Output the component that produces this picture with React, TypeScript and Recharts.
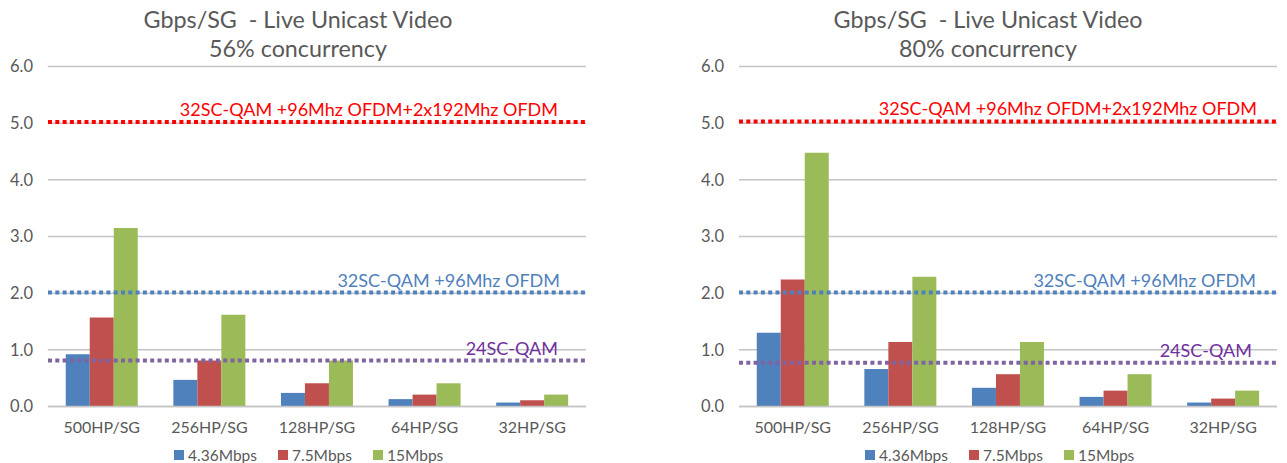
import React from "react";
import {
  Bar,
  BarChart,
  CartesianGrid,
  Legend,
  ReferenceLine,
  XAxis,
  YAxis,
} from "recharts";

const categories = ["500HP/SG", "256HP/SG", "128HP/SG", "64HP/SG", "32HP/SG"];
const seriesNames = ["4.36Mbps", "7.5Mbps", "15Mbps"];
const seriesColors = ["#4f81bd", "#c0504d", "#9bbb59"];
const yTicks = [0, 1, 2, 3, 4, 5, 6];

// 56% concurrency
const c56_436 = [0.92, 0.47, 0.24, 0.13, 0.07];
const c56_75 = [1.57, 0.81, 0.41, 0.21, 0.11];
const c56_15 = [3.15, 1.62, 0.81, 0.41, 0.21];

// 80% concurrency
const c80_436 = [1.3, 0.66, 0.33, 0.17, 0.07];
const c80_75 = [2.24, 1.14, 0.57, 0.28, 0.14];
const c80_15 = [4.48, 2.29, 1.14, 0.57, 0.28];

// capacity reference lines
const refLabels = ["32SC-QAM +96Mhz OFDM+2x192Mhz OFDM", "32SC-QAM +96Mhz OFDM", "24SC-QAM"];
const refLineColors = ["#ff0000", "#4f81bd", "#8064a2"];
const refTextColors = ["#ff0000", "#4f81bd", "#7030a0"];
const ref56 = [5.02, 2.01, 0.81];
const ref80 = [5.03, 2.01, 0.77];

const FONT = "Lato, 'Open Sans', sans-serif";
const GRAY = "#595959";

function buildRows(a: number[], b: number[], c: number[]) {
  return categories.map((name, i) => ({
    name,
    [seriesNames[0]]: a[i],
    [seriesNames[1]]: b[i],
    [seriesNames[2]]: c[i],
  }));
}

function dottedShape(color: string, id: string) {
  return (props: any) => {
    const { x1, y1, x2, y2 } = props;
    return (
      <g>
        <defs>
          <filter id={id} x="-5%" y="-200%" width="110%" height="500%">
            <feGaussianBlur stdDeviation="1.6" />
          </filter>
        </defs>
        <line x1={x1} y1={y1 + 3} x2={x2} y2={y2 + 3} stroke="#8a8a8a" strokeOpacity={0.45} strokeWidth={4} filter={`url(#${id})`} />
        <line x1={x1} y1={y1} x2={x2} y2={y2} stroke={color} strokeWidth={4} strokeDasharray="4 3.3" />
      </g>
    );
  };
}

function RefLabel(props: any) {
  const { viewBox, text, color, dx } = props;
  if (!viewBox) return null;
  return (
    <text
      x={viewBox.x + viewBox.width - dx}
      y={viewBox.y - 6}
      textAnchor="end"
      fill={color}
      fontSize={18}
      fontFamily={FONT}
    >
      {text}
    </text>
  );
}

function LegendRow({ padLeft }: { padLeft: number }) {
  return (
    <div
      style={{
        display: "flex",
        alignItems: "center",
        height: 16,
        paddingLeft: padLeft,
        fontFamily: FONT,
        fontSize: 15.5,
        color: GRAY,
        lineHeight: "16px",
      }}
    >
      {seriesNames.map((s, i) => (
        <span key={s} style={{ display: "flex", alignItems: "center", marginRight: 21 }}>
          <span style={{ width: 10, height: 10, background: seriesColors[i], marginRight: 4 }} />
          {s}
        </span>
      ))}
    </div>
  );
}

type PanelProps = {
  id: string;
  left: number;
  width: number;
  marginLeft: number;
  marginRight: number;
  subtitle: string;
  titleCenter: number;
  rows: any[];
  refs: number[];
  labelDx: number[];
  legendPad: number;
};

function Panel(p: PanelProps) {
  return (
    <div style={{ position: "absolute", left: p.left, top: 0, width: p.width, height: 463 }}>
      <div
        style={{
          position: "absolute",
          left: p.titleCenter - p.left - 250,
          top: 5,
          width: 500,
          textAlign: "center",
          fontFamily: FONT,
          fontSize: 23.3,
          lineHeight: "29px",
          color: GRAY,
          whiteSpace: "pre",
        }}
      >
        {"Gbps/SG  - Live Unicast Video"}
        <br />
        {p.subtitle}
      </div>
      <BarChart
        width={p.width}
        height={463}
        data={p.rows}
        margin={{ top: 66.5, right: p.marginRight, bottom: 0, left: p.marginLeft }}
        barCategoryGap="16.5%"
        barGap={0}
      >
        <CartesianGrid vertical={false} stroke="#c4c4c4" strokeWidth={1.5} />
        <XAxis
          dataKey="name"
          height={40.5}
          axisLine={{ stroke: "#c4c4c4", strokeWidth: 1.5 }}
          tickLine={false}
          tickSize={6}
          tickMargin={9}
          tick={{ fill: GRAY, fontSize: 16, fontFamily: FONT }}
        />
        <YAxis
          width={48}
          domain={[0, 6]}
          ticks={yTicks}
          interval={0}
          axisLine={false}
          tickLine={false}
          tickSize={6}
          tickMargin={9}
          tickFormatter={(v: number) => v.toFixed(1)}
          tick={{ fill: GRAY, fontSize: 16.5, fontFamily: FONT }}
        />
        {seriesNames.map((s, i) => (
          <Bar key={s} dataKey={s} fill={seriesColors[i]} isAnimationActive={false} />
        ))}
        {p.refs.map((v, i) => (
          <ReferenceLine
            key={refLabels[i]}
            y={v}
            stroke={refLineColors[i]}
            shape={dottedShape(refLineColors[i], `${p.id}-sh${i}`)}
            label={<RefLabel text={refLabels[i]} color={refTextColors[i]} dx={p.labelDx[i]} />}
          />
        ))}
        <Legend
          verticalAlign="bottom"
          wrapperStyle={{ left: 0, width: p.width, bottom: 0 }}
          content={() => <LegendRow padLeft={p.legendPad} />}
        />
      </BarChart>
    </div>
  );
}

export default function App() {
  return (
    <div style={{ position: "absolute", left: 0, top: 0, width: 1287, height: 463, background: "#fff" }}>
      <Panel
        id="c56"
        left={0}
        width={640}
        marginLeft={0}
        marginRight={54}
        subtitle="56% concurrency"
        titleCenter={298}
        rows={buildRows(c56_436, c56_75, c56_15)}
        refs={ref56}
        labelDx={[28, 26, 28]}
        legendPad={174}
      />
      <Panel
        id="c80"
        left={640}
        width={647}
        marginLeft={51}
        marginRight={10}
        subtitle="80% concurrency"
        titleCenter={988}
        rows={buildRows(c80_436, c80_75, c80_15)}
        refs={ref80}
        labelDx={[20, 21, 25]}
        legendPad={225}
      />
    </div>
  );
}
